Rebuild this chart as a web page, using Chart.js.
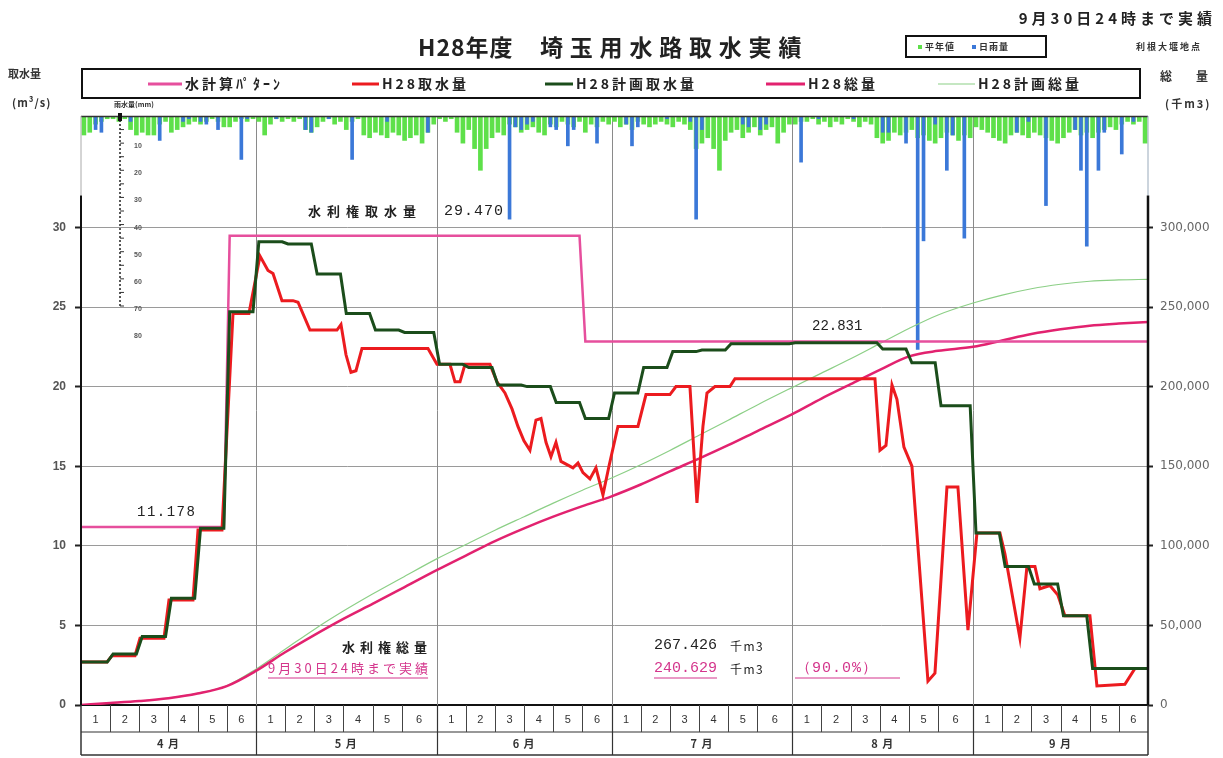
<!DOCTYPE html>
<html><head><meta charset="utf-8">
<script src="https://cdn.jsdelivr.net/npm/chart.js@4.4.1/dist/chart.umd.min.js"></script>
<style>html,body{margin:0;padding:0;background:#fff;}canvas{display:block;}</style>
</head><body>
<canvas id="c" width="1223" height="758"></canvas>
<script>
// ---------- data ----------
const months = ['4 月','5 月','6 月','7 月','8 月','9 月'];
const monthDays = [30,31,30,31,31,30];
const halfLabels = ['1','2','3','4','5','6'];
// half-month (半旬) boundaries, day offsets from 1 April
const periodBounds = [0,5,10,15,20,25,30,35,40,45,50,55,61,66,71,76,81,86,91,96,101,106,111,116,122,127,132,137,142,147,153,158,163,168,173,178,183];
// 水計算パターン (m3/s) per half-month
const patternValues = [11.178,11.178,11.178,11.178,11.178,29.47, 29.47,29.47,29.47,29.47,29.47,29.47, 29.47,29.47,29.47,29.47,29.47,22.831, 22.831,22.831,22.831,22.831,22.831,22.831, 22.831,22.831,22.831,22.831,22.831,22.831, 22.831,22.831,22.831,22.831,22.831,22.831];
// H28計画取水量 (m3/s) per half-month
const planIntake = [2.7,3.2,4.3,6.7,11.1,24.7, 29.1,28.96,27.07,24.6,23.55,23.4, 21.4,21.2,20.1,20.0,19.0,18.0, 19.6,21.2,22.2,22.3,22.7,22.7, 22.75,22.75,22.75,22.36,21.5,18.8, 10.8,8.7,7.6,5.6,2.3,2.3];
// H28取水量 (m3/s)
const actualDays = [0,4.46,5.32,9.26,10.12,14.23,15.09,19.21,20.07,24.18,26.07,28.81,30.7,32.07,32.93,34.47,36.36,37.22,39.27,43.9,44.59,45.45,46.3,47.16,48.19,59.51,61.05,63.28,64.14,65.0,65.86,70.14,71.34,72.71,73.92,74.94,75.97,77.0,78.03,78.89,79.75,80.6,81.46,82.32,83.35,84.38,85.24,86.09,87.29,88.32,89.52,90.55,92.09,95.52,96.9,101.01,102.04,104.44,105.64,106.67,107.36,108.73,111.3,112.16,136.17,137.03,138.06,139.09,139.94,141.14,142.51,145.26,146.46,148.52,150.4,152.12,153.66,157.61,158.46,161.03,162.24,163.61,164.47,166.18,167.55,168.75,173.04,174.24,179.04,180.76,183];
const actualIntake = [2.7,2.7,3.1,3.1,4.2,4.2,6.6,6.6,11.0,11.0,24.6,24.6,28.2,27.3,27.1,25.4,25.4,25.3,23.55,23.55,23.9,22.0,20.9,21.0,22.4,22.4,21.4,21.4,20.3,20.3,21.4,21.4,20.3,19.6,18.6,17.5,16.6,16.0,17.9,18.0,16.5,15.6,16.5,15.3,15.1,14.9,15.2,14.6,14.2,14.9,13.2,15.0,17.5,17.5,19.5,19.5,20.0,20.0,12.7,17.5,19.6,20.0,20.0,20.5,20.5,16.0,16.3,20.1,19.2,16.2,15.0,1.5,2.0,13.7,13.7,4.7,10.8,10.8,9.5,4.2,8.7,8.7,7.3,7.5,6.9,5.6,5.6,1.2,1.3,2.3,2.3];
// 総量 (千m3) at the half-month boundaries
const actualTotal = [0,1200,2500,4300,7200,11900,21400,33100,43900,54100,63500,73100,84700,93900,103000,111000,118300,124900,131100,138500,146800,154800,163200,172100,182700,192500,201500,210500,219000,222500,225000,229000,233000,236000,238300,239600,240629];
const planTotal = [0,1200,2500,4400,7300,12100,22500,35000,47500,59000,69700,79800,91800,100800,109800,118300,126800,134900,142600,150900,159900,169400,178900,188500,199500,208500,217500,227000,236500,245000,252500,257500,261500,264300,266200,267000,267426];
// rainfall (mm) per day, 1 Apr - 30 Sep
const rainNormal = [
 7,6,3,2,1,1,2,1,5,7,6,7,7,3,2,6,5,4,3,2,3,2,1,2,4,4,2,1,2,1,
 2,7,3,1,2,1,2,1,5,6,4,2,1,3,2,5,2,1,7,8,6,7,8,6,7,9,8,7,10,6,3,
 1,2,1,6,10,5,12,20,12,8,6,7,3,4,6,5,4,6,7,3,4,2,3,4,2,6,3,4,2,3,
 2,4,3,5,2,3,4,3,2,3,4,2,3,5,12,10,8,12,20,9,6,5,8,6,4,7,5,4,10,6,3,
 3,2,2,1,3,2,4,2,3,1,2,4,2,3,8,10,9,6,7,6,5,8,7,9,10,8,6,7,9,7,8,
 4,5,6,8,9,10,7,6,7,8,6,7,8,9,10,8,6,5,7,6,8,6,5,4,5,3,2,3,2,10];
const rainDaily = [
 0,0,5,6,0,0,0,0,2,0,0,0,0,9,0,0,0,2,1,0,2,3,0,5,0,0,0,16,1,0,
 0,0,0,1,0,0,0,0,5,6,0,0,1,0,0,0,16,0,0,0,0,0,2,0,0,0,0,0,0,6,0,
 0,0,0,0,0,0,0,0,0,0,0,0,38,4,5,3,2,0,0,4,5,0,11,5,0,0,0,10,0,0,
 0,0,3,11,4,0,0,0,0,1,0,0,0,2,38,5,0,0,0,0,0,0,3,4,0,5,3,0,0,0,0,
 0,17,0,0,1,0,0,0,0,0,1,0,0,0,0,6,6,0,0,10,0,86,46,0,3,0,20,7,0,45,0,
 0,0,0,0,0,0,0,6,0,2,0,0,33,0,0,0,0,5,20,48,0,20,6,0,0,14,0,2,0,0];
const leftTicks = [0,5,10,15,20,25,30];
const rightTicks = [0,50000,100000,150000,200000,250000,300000];
const rainTicks = [10,20,30,40,50,60,70,80];

// ---------- styles ----------
const CJK = '"Noto Sans CJK JP","Noto Sans CJK SC",sans-serif';
const MONO = '"Liberation Mono","DejaVu Sans Mono",monospace';
const SANS = '"Liberation Sans",Arial,sans-serif';
const C = {pattern:'#e64f9d', actual:'#ec1b1f', plan:'#1b4d1b', actualTotal:'#e2226f', planTotal:'#8ccf86', normal:'#5ee04a', daily:'#3b78d8', pinkText:'#d4358c'};

function stepPoints(bounds, vals){
  const pts=[];
  for(let i=0;i<vals.length;i++){
    pts.push({x: i===0 ? bounds[i] : bounds[i]+0.5, y: vals[i]});
    pts.push({x: i===vals.length-1 ? bounds[i+1] : bounds[i+1]-0.5, y: vals[i]});
  }
  return pts;
}
const zip = (xs, ys) => xs.map((x,i)=>({x, y: ys[i]}));
const daily = arr => arr.map((v,i)=>({x: i+0.5, y: v}));

const monthStarts = monthDays.reduce((a,d)=>{a.push(a[a.length-1]+d);return a;},[0]);

const legendItems = [
  {label:'水計算ﾊﾟﾀｰﾝ', color:C.pattern, w:3, x0:148, x1:182},
  {label:'H28取水量', color:C.actual, w:3, x0:352, x1:379},
  {label:'H28計画取水量', color:C.plan, w:3, x0:545, x1:573},
  {label:'H28総量', color:C.actualTotal, w:3, x0:766, x1:805},
  {label:'H28計画総量', color:C.planTotal, w:1.2, x0:938, x1:975}
];

function txt(ctx, s, x, y, font, color, align, spacing){
  ctx.save();
  ctx.font = font; ctx.fillStyle = color || '#222';
  ctx.textAlign = align || 'left'; ctx.textBaseline = 'middle';
  ctx.letterSpacing = (spacing || 0) + 'px';
  ctx.fillText(s, x, y);
  const w = ctx.measureText(s).width - (spacing || 0);
  ctx.restore();
  return w;
}
function line(ctx, x0,y0,x1,y1,color,w,dash){
  ctx.save(); ctx.beginPath(); ctx.strokeStyle=color; ctx.lineWidth=w; ctx.setLineDash(dash||[]);
  ctx.moveTo(x0,y0); ctx.lineTo(x1,y1); ctx.stroke(); ctx.restore();
}

const framePlugin = {
  id:'frame',
  beforeDatasetsDraw(chart){
    const {ctx, chartArea:a, scales:{x}} = chart;
    monthStarts.slice(1,-1).forEach(d=>{
      const px = Math.round(x.getPixelForValue(d))+0.5;
      line(ctx, px, a.top, px, a.bottom, '#8a8a8a', 1);
    });
  },
  afterDatasetsDraw(chart){
    const {ctx, chartArea:a, scales:{x, y, yr}} = chart;
    const H = chart.height;
    line(ctx, a.left, a.top+0.5, a.right, a.top+0.5, '#333', 1.5);
    const yTop = y.getPixelForValue(32);
    line(ctx, a.left, a.top, a.left, yTop, '#aaa', 1);
    line(ctx, a.right, a.top, a.right, yTop, '#9ab', 1);
    line(ctx, a.left, yTop, a.left, a.bottom, '#111', 2);
    line(ctx, a.right, yTop, a.right, a.bottom, '#111', 2.5);
    // rain scale
    const rx = a.left + 39;
    line(ctx, rx, a.top, rx, yr.getPixelForValue(70), '#222', 1.5, [2,2]);
    ctx.fillStyle = '#111'; ctx.fillRect(rx-2, a.top-3, 4, 8);
    for(let v=5; v<=70; v+=5){
      const py = yr.getPixelForValue(v);
      line(ctx, rx, py, rx+4, py, '#333', 1);
    }
    rainTicks.forEach(v=>{
      txt(ctx, String(v), rx+14, yr.getPixelForValue(v)+3, `bold 7px ${SANS}`, '#555');
    });
    txt(ctx, '雨水量(mm)', rx-6, a.top-12, `bold 7px ${CJK}`, '#333');
    // bottom table
    const r1 = a.bottom, r2 = a.bottom + 27, r3 = H - 3;
    line(ctx, a.left, r2, a.right, r2, '#333', 1.2);
    line(ctx, a.left, r3, a.right, r3, '#333', 1.5);
    line(ctx, a.left, r1, a.left, r3, '#333', 1.5);
    line(ctx, a.right, r1, a.right, r3, '#333', 1.5);
    for(let m=0; m<months.length; m++){
      const s = monthStarts[m], e = monthStarts[m+1];
      const cuts = [s, s+5, s+10, s+15, s+20, s+25, e];
      if(m>0){ const px=Math.round(x.getPixelForValue(s))+0.5; line(ctx, px, r1, px, r3, '#333', 1.2); }
      for(let k=1;k<6;k++){ const px=Math.round(x.getPixelForValue(cuts[k]))+0.5; line(ctx, px, r1, px, r2, '#444', 1); }
      for(let k=0;k<6;k++){
        const cx = (x.getPixelForValue(cuts[k])+x.getPixelForValue(cuts[k+1]))/2;
        txt(ctx, halfLabels[k], cx, (r1+r2)/2+1, `11px ${SANS}`, '#333', 'center');
      }
      const mx = (x.getPixelForValue(s)+x.getPixelForValue(e))/2;
      txt(ctx, months[m], mx, (r2+r3)/2, `bold 11px ${CJK}`, '#333', 'center', 1);
    }
  },
  afterDraw(chart){
    const {ctx, chartArea:a, scales:{y}} = chart;
    // title
    txt(ctx, 'H28年度', 418, 47, `bold 23px ${CJK}`, '#222', 'left', 1);
    txt(ctx, '埼玉用水路取水実績', 540, 47, `bold 23px ${CJK}`, '#222', 'left', 6.8);
    txt(ctx, '9月30日24時まで実績', 1216, 18, `bold 15px ${CJK}`, '#222', 'right', 4);
    txt(ctx, '利根大堰地点', 1202, 47, `bold 9px ${CJK}`, '#333', 'right', 2);
    ctx.save(); ctx.strokeStyle='#111'; ctx.lineWidth=2; ctx.strokeRect(906, 36, 140, 21); ctx.restore();
    ctx.fillStyle = C.normal; ctx.fillRect(918, 45, 4, 4);
    txt(ctx, '平年値', 925, 47, `bold 9px ${CJK}`, '#333', 'left', 1);
    ctx.fillStyle = C.daily; ctx.fillRect(972, 45, 4, 4);
    txt(ctx, '日雨量', 979, 47, `bold 9px ${CJK}`, '#333', 'left', 1);
    // axis captions
    txt(ctx, '取水量', 8, 74, `bold 11px ${CJK}`, '#333');
    txt(ctx, '(m³/s)', 12, 103, `bold 11px ${CJK}`, '#333', 'left', 1);
    txt(ctx, '総量', 1160, 76, `bold 12px ${CJK}`, '#333', 'left', 24);
    txt(ctx, '(千m3)', 1165, 104, `bold 11px ${CJK}`, '#333', 'left', 2);
    // main legend
    ctx.save(); ctx.strokeStyle='#111'; ctx.lineWidth=2; ctx.strokeRect(82, 69, 1058, 29); ctx.restore();
    legendItems.forEach(it=>{
      line(ctx, it.x0, 84, it.x1, 84, it.color, it.w);
      txt(ctx, it.label, it.x1+3, 84, `bold 14px ${CJK}`, '#222', 'left', 3);
    });
    // annotations
    const yr = y.getPixelForValue(31.0);
    txt(ctx, '水利権取水量', 308, yr, `bold 13px ${CJK}`, '#222', 'left', 6);
    txt(ctx, patternValues[6].toFixed(3), 444, yr, `15px ${MONO}`, '#222', 'left', 1);
    txt(ctx, patternValues[0].toFixed(3), 137, y.getPixelForValue(patternValues[0])-15, `14px ${MONO}`, '#222', 'left', 1.5);
    txt(ctx, patternValues[35].toFixed(3), 812, y.getPixelForValue(patternValues[35])-15, `14px ${MONO}`, '#222');
    txt(ctx, '水利権総量', 342, 647, `bold 13px ${CJK}`, '#222', 'left', 5);
    let w = txt(ctx, '9月30日24時まで実績', 268, 668, `13px ${CJK}`, C.pinkText, 'left', 3);
    line(ctx, 268, 678, 268+w, 678, C.pinkText, 1);
    const planEnd = planTotal[planTotal.length-1], actEnd = actualTotal[actualTotal.length-1];
    txt(ctx, (planEnd/1000).toFixed(3), 654, 645, `15px ${MONO}`, '#222');
    txt(ctx, '千m3', 730, 646, `12px ${CJK}`, '#222', 'left', 1.5);
    w = txt(ctx, (actEnd/1000).toFixed(3), 654, 668, `15px ${MONO}`, C.pinkText);
    line(ctx, 654, 678, 654+w, 678, C.pinkText, 1);
    txt(ctx, '千m3', 730, 669, `12px ${CJK}`, '#222', 'left', 1.5);
    txt(ctx, '（' + (actEnd/planEnd*100).toFixed(1) + '%）', 796, 668, `15px ${MONO}`, C.pinkText, 'left', 1);
    line(ctx, 795, 678, 900, 678, C.pinkText, 1);
  }
};

new Chart(document.getElementById('c'), {
  type:'line',
  data:{ datasets:[
    {label:'H28計画取水量', data: stepPoints(periodBounds, planIntake), borderColor:C.plan, borderWidth:3, pointRadius:0, yAxisID:'y', order:1},
    {label:'H28取水量', data: zip(actualDays, actualIntake), borderColor:C.actual, borderWidth:3, pointRadius:0, yAxisID:'y', order:2},
    {label:'水計算パターン', data: stepPoints(periodBounds, patternValues), borderColor:C.pattern, borderWidth:2.5, pointRadius:0, yAxisID:'y', order:3},
    {label:'H28総量', data: zip(periodBounds, actualTotal), borderColor:C.actualTotal, borderWidth:2.5, pointRadius:0, yAxisID:'y2', cubicInterpolationMode:'monotone', order:4},
    {label:'H28計画総量', data: zip(periodBounds, planTotal), borderColor:C.planTotal, borderWidth:1.2, pointRadius:0, yAxisID:'y2', cubicInterpolationMode:'monotone', order:5},
    {type:'bar', label:'日雨量', data: daily(rainDaily), backgroundColor:C.daily, barThickness:3, grouped:false, yAxisID:'yr', order:6},
    {type:'bar', label:'平年値', data: daily(rainNormal), backgroundColor:C.normal, barThickness:4, grouped:false, yAxisID:'yr', order:7}
  ]},
  options:{
    responsive:false, animation:false, devicePixelRatio:1,
    layout:{padding:{top:116, left:0, right:0, bottom:0}},
    plugins:{legend:{display:false}, title:{display:false}, tooltip:{enabled:false}},
    scales:{
      x:{type:'linear', min:0, max:183, offset:false, grid:{display:false, offset:false}, ticks:{display:false}, border:{display:true, color:'#111', width:2}, afterFit(s){s.height=53;}},
      y:{position:'left', min:0, max:37,
         afterBuildTicks(s){s.ticks = leftTicks.map(v=>({value:v}));},
         ticks:{font:{family:SANS, size:12, weight:'bold'}, color:'#555', padding:9},
         grid:{color:'#9a9a9a', lineWidth:1, tickLength:6, tickColor:'#222', tickWidth:2},
         border:{display:false}, afterFit(s){s.width=81;}},
      y2:{position:'right', min:0, max:370000,
         afterBuildTicks(s){s.ticks = rightTicks.map(v=>({value:v}));},
         ticks:{font:{family:'"DejaVu Sans",sans-serif', size:12}, color:'#666', padding:7, callback:v=>v.toLocaleString('en-US')},
         grid:{drawOnChartArea:false, tickLength:5, tickColor:'#222', tickWidth:2},
         border:{display:false}, afterFit(s){s.width=75;}},
      yr:{display:false, reverse:true, min:0, max:217}
    }
  },
  plugins:[framePlugin]
});
</script>
</body></html>
